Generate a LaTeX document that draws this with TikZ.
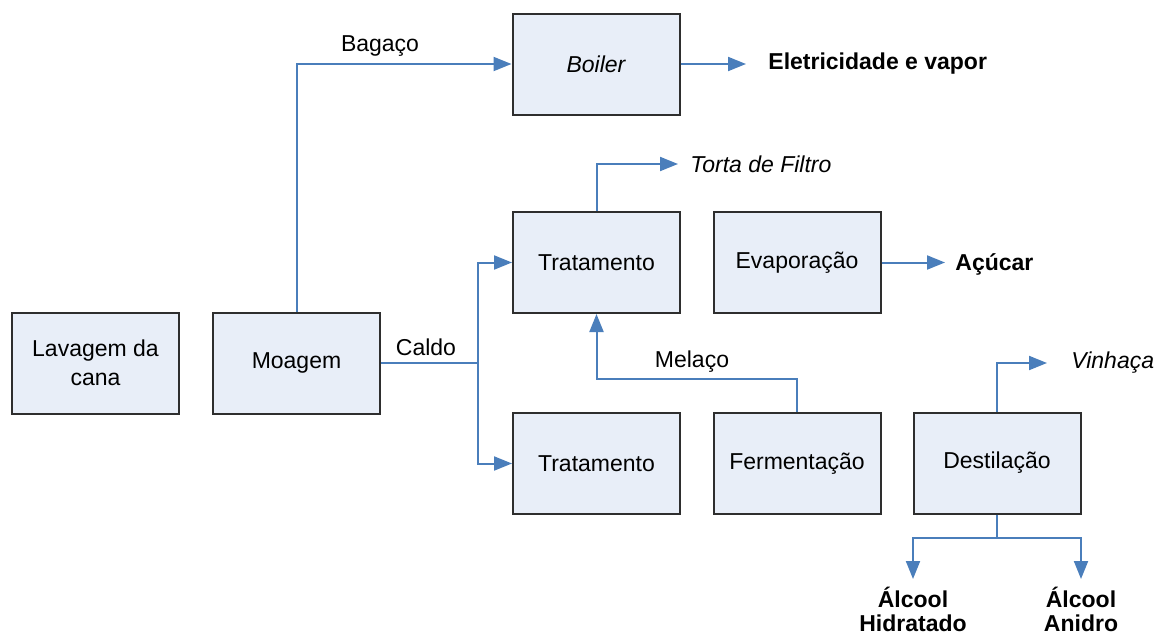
\documentclass[tikz,border=0pt]{standalone}
\usepackage{fontspec}
\setmainfont{Liberation Sans}
\usetikzlibrary{arrows.meta}
\definecolor{flow}{HTML}{4A7EBB}
\definecolor{boxfill}{HTML}{E8EEF8}
\definecolor{boxline}{HTML}{2E2E2E}
\begin{document}
\begin{tikzpicture}[x=0.5pt,y=-0.5pt,
  every node/.style={font=\fontsize{11.5}{14.5}\selectfont, inner sep=0pt},
  procbox/.style={draw=boxline, fill=boxfill, line width=1pt, minimum width=83.5pt, minimum height=50.5pt, align=center},
  flowline/.style={draw=flow, line width=1pt},
  flowarrow/.style={flowline, -{Triangle[length=9pt,width=7pt]}},
  lbl/.style={align=center},
  outb/.style={font=\fontsize{11.5}{12}\selectfont\bfseries, align=center}
]
\useasboundingbox (0,0) rectangle (1160,637);

% boxes
\node[procbox] (lav) at (95.5,363) {Lavagem da\\cana};
\node[procbox] (moa) at (296.5,363) {Moagem};
\node[procbox] (boi) at (596,64) {\itshape Boiler};
\node[procbox] (trt) at (596.5,262.5) {Tratamento};
\node[procbox] (eva) at (797,262.5) {Evaporação};
\node[procbox] (trb) at (596.5,463.5) {Tratamento};
\node[procbox] (fer) at (797,463.5) {Fermentação};
\node[procbox] (des) at (997,463) {Destilação};

% coordinates for free ends and junctions
\coordinate (eleEnd) at (746,64);
\coordinate (caldoJ) at (478,363);
\coordinate (tortaEnd) at (678,164);
\coordinate (acuEnd) at (945,262.5);
\coordinate (melC) at (596.5,379);
\coordinate (vinEnd) at (1047,363);
\coordinate (desJ) at (997,538);
\coordinate (hidEnd) at (913,579);
\coordinate (aniEnd) at (1081,579);

% outputs text
\node[outb, anchor=west] (ele) at (768,64) {Eletricidade e vapor};
\node[lbl, anchor=west] (torta) at (690,164) {\itshape Torta de Filtro};
\node[outb, anchor=west] (acu) at (955,264) {Açúcar};
\node[lbl, anchor=west] (vin) at (1071,363) {\itshape Vinhaça};
\node[outb, anchor=north] (hid) at (913,587) {Álcool\\Hidratado};
\node[outb, anchor=north] (ani) at (1081,587) {Álcool\\Anidro};

% labels
\node[lbl] (bag) at (380,46) {Bagaço};
\node[lbl] (cal) at (426,347) {Caldo};
\node[lbl] (mel) at (692,362) {Melaço};

% connectors
\draw[flowarrow] (moa.north) |- (boi.west);
\draw[flowarrow] (boi.east) -- (eleEnd);
\draw[flowline] (moa.east) -- (caldoJ);
\draw[flowarrow] (caldoJ) |- (trt.west);
\draw[flowarrow] (caldoJ) |- (trb.west);
\draw[flowarrow] (trt.north) |- (tortaEnd);
\draw[flowarrow] (eva.east) -- (acuEnd);
\draw[flowarrow] (fer.north) |- (melC) -- (trt.south);
\draw[flowarrow] (des.north) |- (vinEnd);
\draw[flowline] (des.south) -- (desJ);
\draw[flowarrow] (desJ) -| (hidEnd);
\draw[flowarrow] (desJ) -| (aniEnd);
\end{tikzpicture}
\end{document}
